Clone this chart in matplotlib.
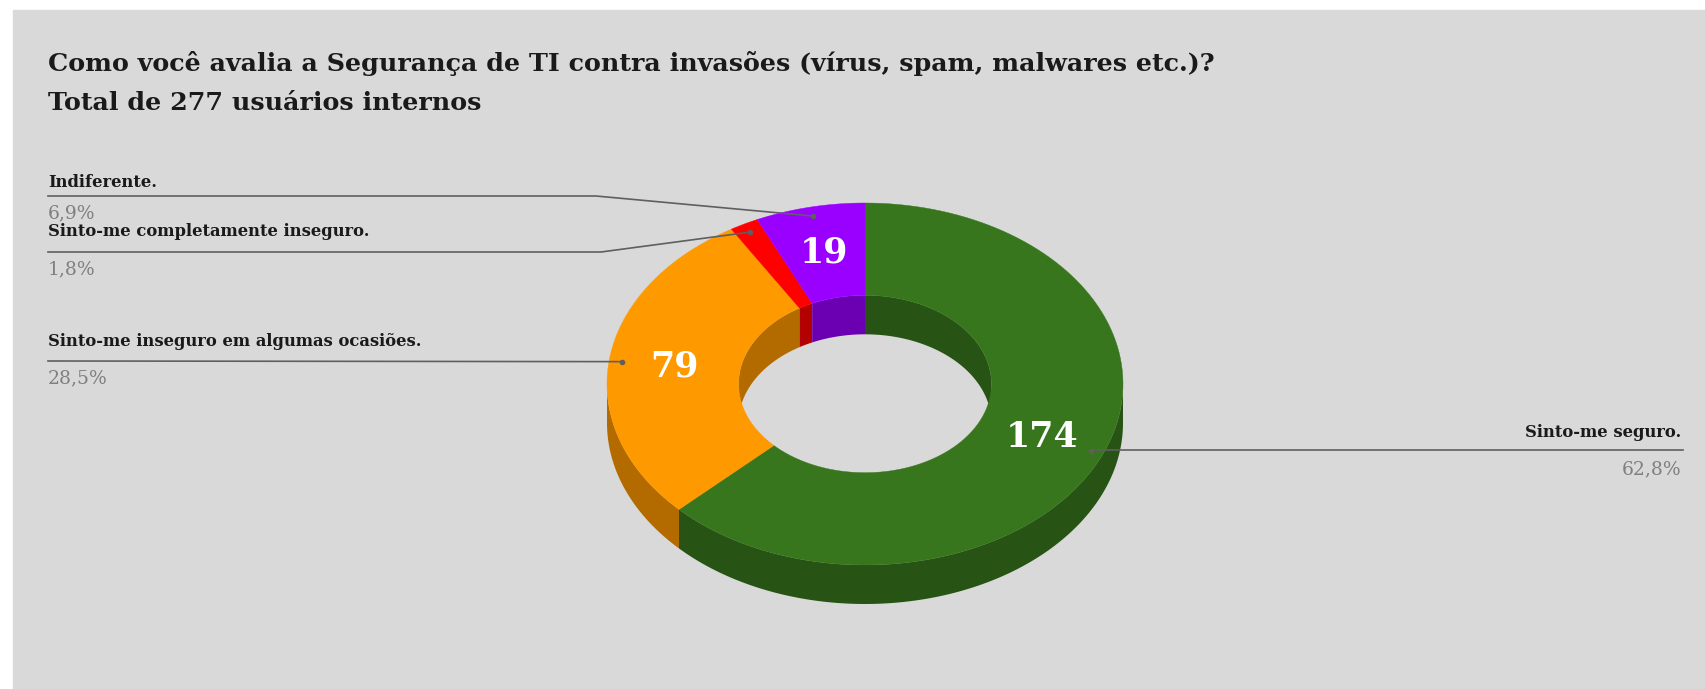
import numpy as np
import matplotlib.pyplot as plt
from matplotlib.patches import Polygon, Rectangle

# data
labels = ["Sinto-me seguro.", "Sinto-me inseguro em algumas ocasiões.",
          "Sinto-me completamente inseguro.", "Indiferente."]
values = [174, 79, 5, 19]
colors = ["#38761d", "#ff9900", "#ff0000", "#9900ff"]
title1 = "Como você avalia a Segurança de TI contra invasões (vírus, spam, malwares etc.)?"
title2 = "Total de 277 usuários internos"

# layout (pixel coords)
W, H = 1705, 689
cx, cy = 865, 384
a, b = 258, 181
inner = 0.49
depth = 39
serif = ["DejaVu Serif"]


def darker(c, f=0.7):
    r, g, bb = plt.matplotlib.colors.to_rgb(c)
    return (r * f, g * f, bb * f)


def pt(theta, r=1.0, dz=0.0):
    return cx + r * a * np.cos(theta), cy - r * b * np.sin(theta) + dz


def arc(t1, t2, r=1.0, dz=0.0, n=120):
    t = np.linspace(t1, t2, n)
    return np.column_stack(pt(t, r, dz))


fig = plt.figure(figsize=(W / 100, H / 100), dpi=100)
ax = fig.add_axes([0, 0, 1, 1])
ax.set_xlim(0, W)
ax.set_ylim(H, 0)
ax.axis("off")
ax.add_patch(Rectangle((13, 10), W - 13, H - 10, color="#d9d9d9", zorder=0))

total = sum(values)
frac = np.cumsum([0] + values) / total
# clockwise from 12 o'clock
starts = np.pi / 2 - 2 * np.pi * frac[:-1]
ends = np.pi / 2 - 2 * np.pi * frac[1:]

# outer side walls (front half)
for s, e, c in zip(starts, ends, colors):
    for off in (0, -2 * np.pi):
        l2, h2 = max(e, -np.pi + off), min(s, 0 + off)
        if h2 > l2:
            top = arc(h2, l2)
            bot = arc(l2, h2, dz=depth)
            ax.add_patch(Polygon(np.vstack([top, bot]), closed=True,
                                 color=darker(c), lw=0, zorder=1))

# inner walls (back half, seen through hole)
for s, e, c in zip(starts, ends, colors):
    for off in (0, -2 * np.pi):
        l2, h2 = max(e, 0 + off), min(s, np.pi + off)
        if h2 > l2:
            top = arc(h2, l2, r=inner)
            bot = arc(l2, h2, r=inner, dz=depth)
            ax.add_patch(Polygon(np.vstack([top, bot]), closed=True,
                                 color=darker(c), lw=0, zorder=2))

# top faces
for s, e, c in zip(starts, ends, colors):
    outer_arc = arc(s, e)
    inner_arc = arc(e, s, r=inner)
    ax.add_patch(Polygon(np.vstack([outer_arc, inner_arc]), closed=True,
                         color=c, lw=0.3, ec=c, zorder=3))

# value labels inside
mids = (starts + ends) / 2
for v, m in zip(values, mids):
    if v / total < 0.05:
        continue
    x, y = pt(m, r=0.745)
    ax.text(x, y, str(v), color="white", fontsize=25, fontweight="bold",
            family=serif, ha="center", va="center", zorder=5)

# outside labels and leader lines
pct = [f"{v / total * 100:.1f}%".replace(".", ",") for v in values]
line_c = "#5f5f5f"
lab_fs, pct_fs = 11.8, 13.5
# (text_y, line_y, bend_x, side)
placements = [(437, 450, None, "right"), (346, 361, None, "left"),
              (236, 252, 601, "left"), (187, 196, 596, "left")]
for lab, p, m, (ty, ly, bx, side) in zip(labels, pct, mids, placements):
    dx, dy = pt(m, r=0.95)
    if side == "right":
        ax.plot([dx, 1683], [ly, ly], color=line_c, lw=1.2, zorder=6)
        ax.text(1681, ty, lab, ha="right", va="baseline", fontsize=lab_fs,
                fontweight="bold", family=serif, color="#1a1a1a", zorder=6)
        ax.text(1681, ly + 24, p, ha="right", va="baseline", fontsize=pct_fs,
                family=serif, color="#808080", zorder=6)
        ax.plot([dx], [dy], "o", ms=3, color=line_c, zorder=7)
    else:
        xs = [48, bx, dx] if bx else [48, dx]
        ys = [ly, ly, dy] if bx else [ly, dy]
        ax.plot(xs, ys, color=line_c, lw=1.2, zorder=6)
        ax.plot([dx], [dy], "o", ms=3, color=line_c, zorder=7)
        ax.text(48, ty, lab, ha="left", va="baseline", fontsize=lab_fs,
                fontweight="bold", family=serif, color="#1a1a1a", zorder=6)
        ax.text(48, ly + 22, p, ha="left", va="baseline", fontsize=pct_fs,
                family=serif, color="#808080", zorder=6)

ax.text(48, 71, title1, ha="left", va="baseline", fontsize=18.3,
        fontweight="bold", family=serif, color="#1a1a1a")
ax.text(48, 110, title2, ha="left", va="baseline", fontsize=18.3,
        fontweight="bold", family=serif, color="#1a1a1a")

fig.savefig("out.png", dpi=100)
